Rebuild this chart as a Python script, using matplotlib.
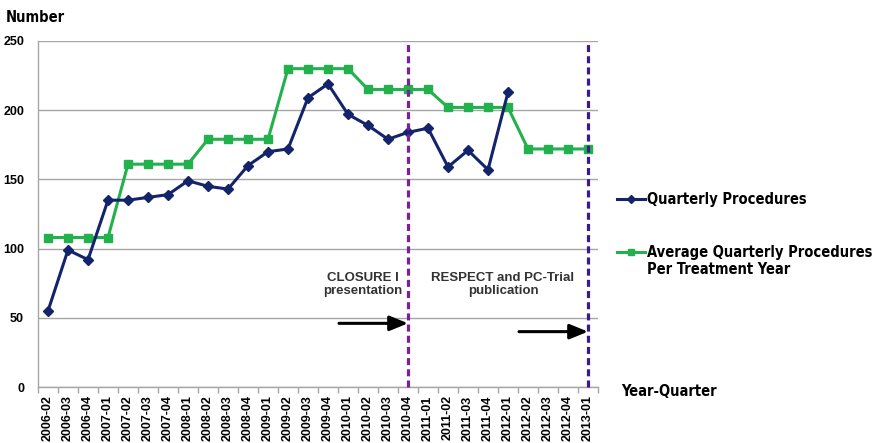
import matplotlib
matplotlib.use("Agg")
import matplotlib.pyplot as plt
from matplotlib.lines import Line2D

categories = ["2006-02", "2006-03", "2006-04",
              "2007-01", "2007-02", "2007-03", "2007-04",
              "2008-01", "2008-02", "2008-03", "2008-04",
              "2009-01", "2009-02", "2009-03", "2009-04",
              "2010-01", "2010-02", "2010-03", "2010-04",
              "2011-01", "2011-02", "2011-03", "2011-04",
              "2012-01", "2012-02", "2012-03", "2012-04",
              "2013-01"]
quarterly = [55, 99, 92, 135, 135, 137, 139, 149, 145, 143, 160, 170, 172, 209,
             219, 197, 189, 179, 184, 187, 159, 171, 157, 213]
average = [108, 108, 108, 108, 161, 161, 161, 161, 179, 179, 179, 179, 230, 230,
           230, 230, 215, 215, 215, 215, 202, 202, 202, 202, 172, 172, 172, 172]
yticks = [0, 50, 100, 150, 200, 250]
event_cats = ["2010-04", "2013-01"]
event_labels = ["CLOSURE I\npresentation", "RESPECT and PC-Trial\npublication"]

BLUE = "#14246a"
GREEN = "#22b14c"
LEG_FONT = "DejaVu Sans"
TICK_FONT = ["Liberation Sans Narrow", "Liberation Sans", "DejaVu Sans"]

fig = plt.figure(figsize=(8.82, 4.43), dpi=100)
ax = fig.add_axes([38/882, 1-387/443, (598-38)/882, (387-41)/443])

x_q = list(range(len(quarterly)))
x_a = list(range(len(average)))
ax.plot(x_a, average, color=GREEN, lw=2.2, marker="s", ms=5.5, zorder=3)
ax.plot(x_q, quarterly, color=BLUE, lw=2.2, marker="D", ms=5.5, zorder=4)

ax.set_xlim(-0.5, len(categories) - 0.5)
ax.set_ylim(0, 250)
ax.set_yticks(yticks)
ax.set_yticklabels([str(v) for v in yticks], fontsize=9, fontweight="bold",
                   family="Liberation Sans")
ax.yaxis.grid(True, color="#a6a6a6", lw=1.0)
ax.set_axisbelow(True)
ax.tick_params(axis="y", length=0, pad=10)

ax.set_xticks(range(len(categories)))
ax.set_xticklabels(categories, rotation=90, fontsize=9, fontweight="bold",
                   family=TICK_FONT)
ax.tick_params(axis="x", length=0, pad=6)
ax.set_xticks([i - 0.5 for i in range(len(categories) + 1)], minor=True)
ax.tick_params(axis="x", which="minor", length=4, color="#a6a6a6", width=1)

for s in ["top", "right"]:
    ax.spines[s].set_visible(False)
for s in ["left", "bottom"]:
    ax.spines[s].set_color("#a6a6a6")
    ax.spines[s].set_linewidth(1.0)

# event lines
ev_colors = ["#7e1e9c", "#3d1a8c"]
for c, col in zip(event_cats, ev_colors):
    xi = categories.index(c)
    ax.axvline(xi, color=col, lw=2.3, ls=(0, (2.2, 1.3)), zorder=5, clip_on=False)

# annotation texts
ax.text(15.75, 74, event_labels[0], ha="center", va="center", fontsize=9.5,
        fontweight="bold", color="#333333", family="Liberation Sans", linespacing=1.1)
ax.text(22.75, 74, event_labels[1], ha="center", va="center", fontsize=9.5,
        fontweight="bold", color="#333333", family="Liberation Sans", linespacing=1.1)

# arrows
i1 = categories.index(event_cats[0])
i2 = categories.index(event_cats[1])
arrow_style = "-|>,head_length=1.1,head_width=0.45"
ax.annotate("", xy=(i1, 46), xytext=(i1 - 3.45, 46),
            arrowprops=dict(arrowstyle=arrow_style, color="black", lw=2.2,
                            shrinkA=0, shrinkB=0), zorder=6)
ax.annotate("", xy=(i2, 40), xytext=(i2 - 3.45, 40),
            arrowprops=dict(arrowstyle=arrow_style, color="black", lw=2.2,
                            shrinkA=0, shrinkB=0), zorder=6)

# titles
fig.text(6/882, 1-17/443, "Number", fontsize=10.5, fontweight="bold",
         fontstretch="condensed", family=LEG_FONT, va="center", ha="left")
fig.text(621/882, 1-392/443, "Year-Quarter", fontsize=10.5, fontweight="bold",
         fontstretch="condensed", family=LEG_FONT, va="center", ha="left")

# legend (manual)
legend_items = [("Quarterly Procedures", BLUE, "D", 199),
                ("Average Quarterly Procedures\nPer Treatment Year", GREEN, "s", 252)]
for label, col, mk, ypix in legend_items:
    yf = 1 - ypix/443
    fig.add_artist(Line2D([617/882, 645/882], [yf, yf], color=col, lw=2.2,
                          transform=fig.transFigure))
    fig.add_artist(Line2D([631/882], [yf], color=col, marker=mk, ms=4,
                          transform=fig.transFigure))
    fig.text(647/882, yf + 0.015, label, fontsize=10.5, fontweight="bold",
             fontstretch="condensed", family=LEG_FONT, va="top", ha="left",
             linespacing=1.15)

fig.savefig("out.png", dpi=100)
